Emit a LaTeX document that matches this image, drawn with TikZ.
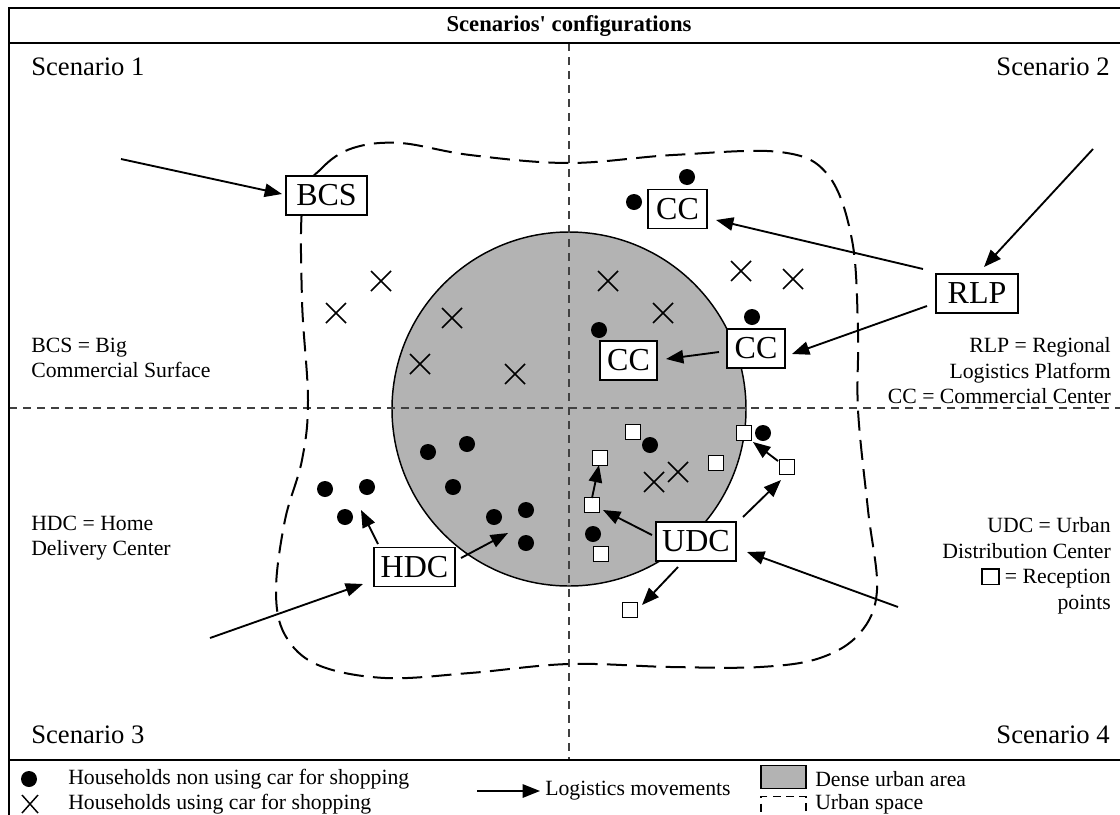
\documentclass[tikz,border=0pt]{standalone}
\usepackage{fontspec}
\setmainfont{Liberation Serif}[Ligatures=TeXOff]
\usetikzlibrary{arrows.meta}
\definecolor{dense}{RGB}{179,179,179}
\newcommand\rpsq{{\setlength\fboxsep{0pt}\setlength\fboxrule{1.1pt}\fbox{\rule{0pt}{10.5pt}\hspace{11.5pt}}}}
\begin{document}
\begin{tikzpicture}[x=0.75pt,y=-0.75pt,
  frame/.style={line width=2pt},
  divider/.style={line width=0.8pt, black!75, dash pattern=on 6pt off 4.5pt},
  urban/.style={line width=1.5pt, dash pattern=on 15pt off 7pt},
  box/.style={draw, fill=white, line width=1.1pt, inner sep=0pt, minimum height=29.25pt, font=\fontsize{24}{28}\selectfont},
  hh/.style={circle, fill=black, inner sep=0pt, minimum size=12pt},
  rp/.style={draw, fill=white, line width=1.1pt, inner sep=0pt, minimum size=11.25pt},
  arr/.style={-{Triangle[length=13pt,width=10pt]}, line width=1.4pt},
  txt/.style={inner sep=0pt, font=\fontsize{16.3}{19.1}\selectfont},
  scen/.style={inner sep=0pt, font=\fontsize{20}{23}\selectfont},
  carx/.pic={\draw[line width=1.1pt] (-10,-10) -- (10,10) (-10,10) -- (10,-10);},
  smallx/.pic={\draw[line width=1.1pt] (-8,-9) -- (8,9) (-8,9) -- (8,-9);},
]
\useasboundingbox (0,0) rectangle (1120,814);
\clip (0,0) rectangle (1120,814);
\fill[white] (0,0) rectangle (1120,814);

% dense urban area
\node[circle, draw, fill=dense, line width=1.1pt, minimum size=265.5pt, inner sep=0pt] (dense) at (569,409) {};

% quadrant dividers
\coordinate (vt) at (569,43); \coordinate (vb) at (569,760);
\coordinate (hl) at (9,408); \coordinate (hr) at (1120,408);
\draw[divider] (vt) -- (vb);
\draw[divider] (hl) -- (hr);

% frame
\draw[frame] (1130,8) -- (9,8) -- (9,830);
\draw[frame] (9,43) -- (1130,43);
\draw[frame] (9,760) -- (1130,760);

% title and scenario labels
\node[font=\bfseries\fontsize{17}{20}\selectfont, inner sep=0pt] (title) at (569,26) {Scenarios' configurations};
\node[scen, anchor=west] (s1) at (31,67) {Scenario 1};
\node[scen, anchor=east] (s2) at (1110,67) {Scenario 2};
\node[scen, anchor=west] (s3) at (31,735) {Scenario 3};
\node[scen, anchor=east] (s4) at (1110,735) {Scenario 4};

% urban space
\draw[urban] plot[smooth cycle, tension=0.6] coordinates {
 (303,200) (322,168) (353,148) (400,143) (470,155) (569,163) (673,155) (780,152)
 (828,175) (852,240) (858,330) (858,410) (868,510) (877,590) (860,633) (820,658)
 (760,667) (671,667) (569,664) (470,673) (385,678) (318,665) (285,635) (276,590)
 (285,520) (302,460) (308,400) (302,300)};

% households using car
\foreach \p in {(381,281),(336,313),(452,318),(420,364),(515,374),(608,281),(663,313),(741,271),(793,279),(654,482),(678,472)}
  \pic at \p {carx};

% households non using car
\node[hh] (d1) at (634,202) {};
\node[hh] (d2) at (687,177) {};
\node[hh] (d3) at (599,330) {};
\node[hh] (d4) at (752,317) {};
\node[hh] (d5) at (325,489) {};
\node[hh] (d6) at (367,487) {};
\node[hh] (d7) at (345,517) {};
\node[hh] (d8) at (428,452) {};
\node[hh] (d9) at (467,444) {};
\node[hh] (d10) at (453,487) {};
\node[hh] (d11) at (494,517) {};
\node[hh] (d12) at (526,510) {};
\node[hh] (d13) at (526,543) {};
\node[hh] (d14) at (650,445) {};
\node[hh] (d15) at (593,534) {};
\node[hh] (d16) at (763,433) {};

% reception points
\node[rp] (r1) at (633,432) {};
\node[rp] (r2) at (600,458) {};
\node[rp] (r3) at (592,505) {};
\node[rp] (r4) at (601,554) {};
\node[rp] (r5) at (716,463) {};
\node[rp] (r6) at (744,433) {};
\node[rp] (r7) at (787,467) {};
\node[rp] (r8) at (630,610) {};

% facility boxes
\node[box, minimum width=60.75pt] (BCS) at (326.5,195.5) {BCS};
\node[box, minimum width=44.25pt] (CC1) at (677.5,209) {CC};
\node[box, minimum width=42.75pt] (CC2) at (628.5,360.5) {CC};
\node[box, minimum width=43.5pt] (CC3) at (756,348.5) {CC};
\node[box, minimum width=61.5pt] (RLP) at (977,293.5) {RLP};
\node[box, minimum width=60.75pt] (HDC) at (414.5,567) {HDC};
\node[box, minimum width=60pt] (UDC) at (696,541.5) {UDC};

% logistics movements
\coordinate (bcsIn) at (121,159);    \coordinate (bcsT) at (282,194);
\coordinate (rlpIn) at (1093,149);   \coordinate (rlpT) at (984,267);
\coordinate (rlpA) at (923,269);     \coordinate (cc1T) at (716,220);
\coordinate (rlpB) at (927,306);     \coordinate (cc3T) at (792,354);
\coordinate (cc3A) at (719,352);     \coordinate (cc2T) at (666,359);
\coordinate (hdcIn) at (210,638);    \coordinate (hdcT) at (363,584);
\coordinate (hdcA) at (378,544);     \coordinate (hdcLT) at (361,510);
\coordinate (hdcB) at (461,558);     \coordinate (hdcRT) at (508,533);
\coordinate (udcIn) at (898,607);    \coordinate (udcT) at (747,552);
\coordinate (udcA) at (652,535);     \coordinate (r3T) at (603,510);
\coordinate (r3A) at (592,498);      \coordinate (r2T) at (599,465);
\coordinate (udcB) at (743,517);     \coordinate (r7T) at (781,480);
\coordinate (r7A) at (778,461);      \coordinate (r6T) at (753,442);
\coordinate (udcC) at (678,567);     \coordinate (r8T) at (642,605);
\draw[arr] (bcsIn) -- (bcsT);
\draw[arr] (rlpIn) -- (rlpT);
\draw[arr] (rlpA) -- (cc1T);
\draw[arr] (rlpB) -- (cc3T);
\draw[arr] (cc3A) -- (cc2T);
\draw[arr] (hdcIn) -- (hdcT);
\draw[arr] (hdcA) -- (hdcLT);
\draw[arr] (hdcB) -- (hdcRT);
\draw[arr] (udcIn) -- (udcT);
\draw[arr] (udcA) -- (r3T);
\draw[arr] (r3A) -- (r2T);
\draw[arr] (udcB) -- (r7T);
\draw[arr] (r7A) -- (r6T);
\draw[arr] (udcC) -- (r8T);

% side explanations
\node[txt, align=left, anchor=north west] (tbcs) at (31,337.5) {BCS = Big\\Commercial Surface};
\node[txt, align=left, anchor=north west] (thdc) at (31,515.5) {HDC = Home\\Delivery Center};
\node[txt, align=right, anchor=north east] (trlp) at (1111,337.5) {RLP = Regional\\Logistics Platform\\CC = Commercial Center};
\node[txt, align=right, anchor=north east] (tudc) at (1111,517.5) {UDC = Urban\\Distribution Center\\\rpsq\ = Reception\\points};

% legend
\node[hh] (lgdot) at (29,779) {};
\pic at (30,804) {smallx};
\node[txt, anchor=west] (lg1) at (68,779) {Households non using car for shopping};
\node[txt, anchor=west] (lg2) at (68,804) {Households using car for shopping};
\coordinate (lgA) at (477,791); \coordinate (lgB) at (540,791);
\draw[arr] (lgA) -- (lgB);
\node[txt, anchor=west] (lg3) at (545,791) {Logistics movements};
\node[draw, fill=dense, line width=1.1pt, minimum width=33.75pt, minimum height=17.25pt, inner sep=0pt] (lgdense) at (783.5,777) {};
\node[draw, line width=1pt, dash pattern=on 6pt off 4pt, minimum width=33.75pt, minimum height=17.25pt, inner sep=0pt] (lgurban) at (783.5,808) {};
\node[txt, anchor=west] (lg4) at (815,779) {Dense urban area};
\node[txt, anchor=west] (lg5) at (815,804) {Urban space};
\end{tikzpicture}
\end{document}
